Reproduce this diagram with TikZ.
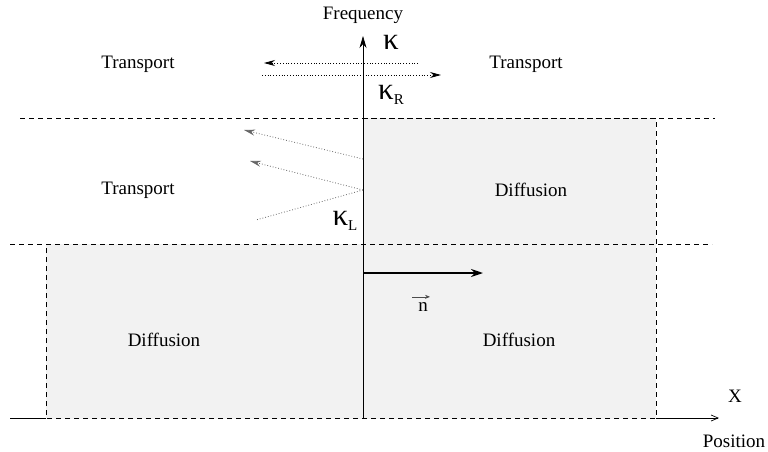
\documentclass[tikz,border=0pt]{standalone}
\usepackage{fontspec}
\setmainfont{Liberation Serif}
\usetikzlibrary{arrows.meta}
\definecolor{regiongray}{RGB}{242,242,242}
\begin{document}
\begin{tikzpicture}[x=1pt,y=-1pt,
  lbl/.style={font=\fontsize{19}{21}\selectfont, inner sep=0pt},
  klbl/.style={font=\fontsize{31}{33}\selectfont, inner sep=0pt},
  bnd/.style={dashed, dash pattern=on 5pt off 4pt, line width=0.7pt},
  axisline/.style={line width=0.7pt},
  dotarrow/.style={dotted, line width=0.8pt, -{Stealth[length=11pt,width=6pt]}},
  raydot/.style={dotted, line width=0.8pt, draw=black!60}
]
\useasboundingbox (0,0) rectangle (768,452);
% bottom axis
\coordinate (xs) at (10,418);
\coordinate (xe) at (719,418);
\draw[axisline, -{Straight Barb[length=7pt,width=6pt]}] (xs) -- (xe);
% regions
\fill[regiongray] (363,118) rectangle (656,244);
\fill[regiongray] (46,244) rectangle (656,418.6);
\draw[bnd] (363,244) -- (363,118) -- (656,118) -- (656,418) -- (46,418) -- (46,244);
% horizontal dashed boundaries
\draw[bnd] (20,118) -- (715,118);
\draw[bnd] (10,244) -- (712,244);
% vertical axis
\coordinate (ys) at (363,418);
\coordinate (ye) at (363,36);
\draw[axisline, -{Stealth[length=12pt,width=7pt]}] (ys) -- (ye);
% labels
\node[lbl] (freq) at (363,15) {Frequency};
\node[lbl] (pos) at (734,441) {Position};
\node[lbl] (xl) at (735,396) {X};
\node[klbl] (k) at (391,42) {κ};
\node[klbl] (kr) at (391,95) {κ\raisebox{-0.3ex}{\fontsize{15}{16}\selectfont R}};
\node[klbl] (kl) at (345,221) {κ\raisebox{-0.3ex}{\fontsize{15}{16}\selectfont L}};
\node[lbl] (t1) at (138,64) {Transport};
\node[lbl] (t2) at (526,64) {Transport};
\node[lbl] (t3) at (138,190) {Transport};
\node[lbl] (d1) at (531,190) {Diffusion};
\node[lbl] (d2) at (164,340) {Diffusion};
\node[lbl] (d3) at (519,340) {Diffusion};
\node[lbl, anchor=base] (nl) at (423,311) {n};
\draw[line width=0.7pt, draw=black!70, -{Stealth[length=5pt,width=4pt]}] ([xshift=-11pt,yshift=5pt]nl.north) -- ([xshift=7pt,yshift=5pt]nl.north);
% top dotted arrows
\coordinate (a1s) at (418,63);
\coordinate (a1e) at (264,63);
\coordinate (a2s) at (262,75);
\coordinate (a2e) at (441,75);
\draw[dotarrow] (a1s) -- (a1e);
\draw[dotarrow] (a2s) -- (a2e);
% reflected rays
\coordinate (r1s) at (363,159);
\coordinate (r1e) at (244,130);
\coordinate (r2s) at (363,190);
\coordinate (r2e) at (250,161);
\coordinate (r3e) at (256,220);
\draw[raydot, -{Stealth[length=11pt,width=6pt]}] (r1s) -- (r1e);
\draw[raydot, -{Stealth[length=11pt,width=6pt]}] (r2s) -- (r2e);
\draw[raydot] (r2s) -- (r3e);
% normal vector
\coordinate (ns) at (363,273);
\coordinate (ne) at (483,273);
\draw[line width=1.8pt, -{Stealth[length=12pt,width=8pt]}] (ns) -- (ne);
\end{tikzpicture}
\end{document}
